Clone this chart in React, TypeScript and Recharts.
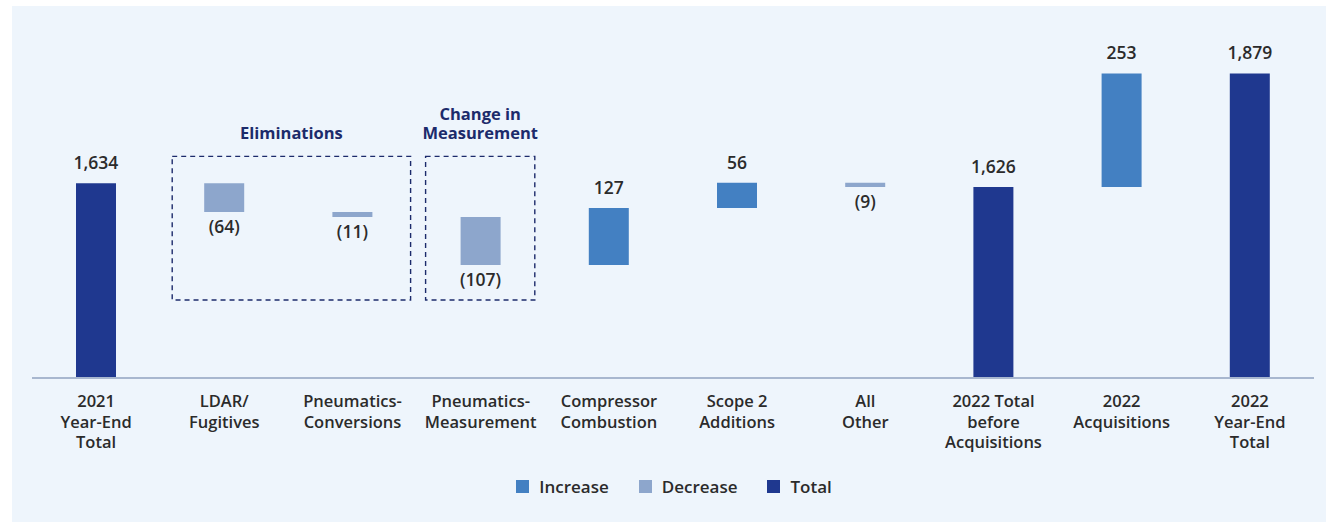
import React from "react";
import {
  BarChart,
  Bar,
  XAxis,
  YAxis,
  Cell,
  LabelList,
  ReferenceArea,
} from "recharts";

const categories = [
  "2021\nYear-End\nTotal",
  "LDAR/\nFugitives",
  "Pneumatics-\nConversions",
  "Pneumatics-\nMeasurement",
  "Compressor\nCombustion",
  "Scope 2\nAdditions",
  "All\nOther",
  "2022 Total\nbefore\nAcquisitions",
  "2022\nAcquisitions",
  "2022\nYear-End\nTotal",
];

const changes = [1634, -64, -11, -107, 127, 56, -9, 1626, 253, 1879];

const kinds = [
  "total",
  "decrease",
  "decrease",
  "decrease",
  "increase",
  "increase",
  "decrease",
  "total",
  "increase",
  "total",
];

const legendItems = ["Increase", "Decrease", "Total"];

const axisMin = 1200;
const axisMax = 1900;

const COLORS: Record<string, string> = {
  increase: "#4380c2",
  decrease: "#8da6cc",
  total: "#1f388f",
};

const FONT = "'Open Sans', sans-serif";
const TEXT = "#2b2b2b";
const NAVY = "#1c2b6b";

// build waterfall ranges from running total
let running = 0;
const data = categories.map((name, i) => {
  const v = changes[i];
  let range: [number, number];
  if (kinds[i] === "total") {
    range = [axisMin, v];
    running = v;
  } else {
    const next = running + v;
    range = [Math.min(running, next), Math.max(running, next)];
    running = next;
  }
  return { name, range, kind: kinds[i], value: v };
});

const fmt = (v: number) =>
  v < 0 ? `(${Math.abs(v).toLocaleString("en-US")})` : v.toLocaleString("en-US");

function MultiTick(props: any) {
  const { x, y, payload } = props;
  const lines = String(payload.value).split("\n");
  return (
    <text
      x={x}
      y={y + 21}
      textAnchor="middle"
      fill={TEXT}
      fontFamily={FONT}
      fontSize={16.5}
      fontWeight={600}
    >
      {lines.map((l, i) => (
        <tspan key={i} x={x} dy={i === 0 ? 0 : 20.5}>
          {l}
        </tspan>
      ))}
    </text>
  );
}

function ValueLabel(props: any) {
  const { x, y, width, height, index } = props;
  const d = data[index];
  const top = Math.min(y, y + height);
  const bottom = Math.max(y, y + height);
  const below = d.kind === "decrease";
  return (
    <text
      x={x + width / 2}
      y={below ? bottom + 21 : top - 14}
      textAnchor="middle"
      fill={TEXT}
      fontFamily={FONT}
      fontSize={17.5}
      fontWeight={600}
    >
      {fmt(d.value)}
    </text>
  );
}

function DashedBox(props: any) {
  const { x, y, width, height, insetL, insetR, title } = props;
  const lines: string[] = title.split("\n");
  const left = x + insetL;
  const w = width - insetL - insetR;
  return (
    <g>
      <rect
        x={left}
        y={y}
        width={w}
        height={height}
        fill="none"
        stroke={NAVY}
        strokeWidth={1.4}
        strokeDasharray="5 4"
      />
      {lines.map((l, i) => (
        <text
          key={i}
          x={left + w / 2}
          y={y - 17 - (lines.length - 1 - i) * 19.5}
          textAnchor="middle"
          fill={NAVY}
          fontFamily={FONT}
          fontSize={16.5}
          fontWeight={700}
        >
          {l}
        </text>
      ))}
    </g>
  );
}

export default function App() {
  return (
    <div
      style={{
        position: "absolute",
        left: 0,
        top: 0,
        width: 1326,
        height: 524,
        background: "#fff",
      }}
    >
      <div
        style={{
          position: "absolute",
          left: 12,
          top: 6,
          width: 1314,
          height: 516,
          background: "#eef5fc",
        }}
      />
      <div style={{ position: "absolute", left: 0, top: 0 }}>
        <BarChart
          width={1326}
          height={524}
          data={data}
          margin={{ top: 64, right: 12, bottom: 66, left: 32 }}
          barSize={40}
        >
          <XAxis
            dataKey="name"
            interval={0}
            tickLine={false}
            axisLine={{ stroke: "#a8b7cf", strokeWidth: 2 }}
            tick={<MultiTick />}
            height={80}
          />
          <YAxis hide domain={[axisMin, axisMax]} allowDataOverflow />
          <ReferenceArea
            x1={categories[1]}
            x2={categories[2]}
            y1={1374}
            y2={1694}
            shape={(p: any) => (
              <DashedBox {...p} insetL={12} insetR={6} title="Eliminations" />
            )}
          />
          <ReferenceArea
            x1={categories[3]}
            x2={categories[3]}
            y1={1374}
            y2={1694}
            shape={(p: any) => (
              <DashedBox
                {...p}
                insetL={9}
                insetR={10}
                title={"Change in\nMeasurement"}
              />
            )}
          />
          <Bar dataKey="range" isAnimationActive={false}>
            {data.map((d, i) => (
              <Cell key={i} fill={COLORS[d.kind]} />
            ))}
            <LabelList dataKey="range" content={<ValueLabel />} />
          </Bar>
        </BarChart>
      </div>
      <div
        style={{
          position: "absolute",
          top: 475,
          left: 0,
          width: 1326,
          display: "flex",
          justifyContent: "center",
          paddingLeft: 22,
          boxSizing: "border-box",
          fontFamily: FONT,
          fontSize: 17,
          fontWeight: 600,
          color: TEXT,
        }}
      >
        {legendItems.map((item) => (
          <div
            key={item}
            style={{ display: "flex", alignItems: "center", margin: "0 15px" }}
          >
            <span
              style={{
                width: 13,
                height: 13,
                background: COLORS[item.toLowerCase()],
                marginRight: 10,
                display: "inline-block",
              }}
            />
            <span>{item}</span>
          </div>
        ))}
      </div>
    </div>
  );
}
